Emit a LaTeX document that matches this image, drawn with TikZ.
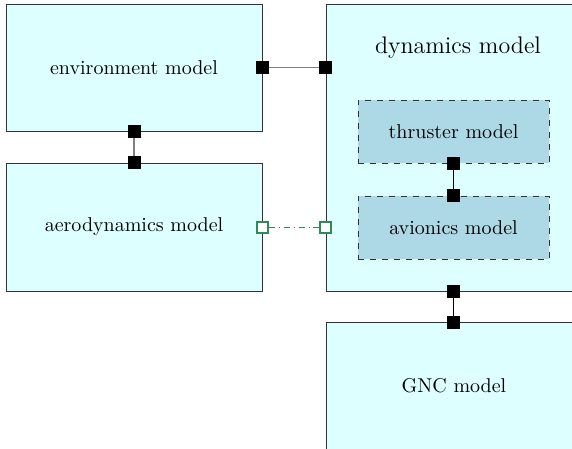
\documentclass[tikz,border=0pt]{standalone}
\usetikzlibrary{positioning}

\definecolor{modelfill}{RGB}{222,255,255}
\definecolor{subfill}{RGB}{173,216,230}
\definecolor{portgreen}{RGB}{46,139,87}

\begin{document}
\begin{tikzpicture}[x=0.5pt,y=-0.5pt,
    model/.style={draw=black!80,fill=modelfill,minimum width=128pt},
    submodel/.style={draw=black!80,dashed,fill=subfill,minimum width=95.5pt,minimum height=31.5pt},
    port/.style={fill=black,draw=black,minimum size=6pt,inner sep=0pt},
    oport/.style={fill=white,draw=portgreen,line width=1pt,minimum size=5.5pt,inner sep=0pt}]
    \useasboundingbox (0,0) rectangle (572,449);
    \clip (0,0) rectangle (572,449);

    \node[model,minimum height=63.5pt] (env) at (134,67.5) {environment model};
    \node[model,minimum height=64pt] (aero) at (134,227) {aerodynamics model};
    \node[model,minimum height=143.5pt] (dyn) at (454,147.5) {};
    \node[font=\large] (dynlabel) at (458,48) {dynamics model};
    \node[submodel] (thr) at (453.5,131.5) {thruster model};
    \node[submodel] (avi) at (453.5,227.5) {avionics model};
    \node[model,minimum height=64pt] (gnc) at (454,386) {GNC model};

    % ports
    \node[port] (envE) at (env.east) {};
    \node[port] (envS) at (env.south) {};
    \node[port] (aeroN) at (aero.north) {};
    \node[oport] (aeroE) at (aero.east) {};
    \node[port] (dynW) at (dyn.west |- envE) {};
    \node[oport] (dynWa) at (dyn.west |- aeroE) {};
    \node[port] (dynS) at (453.5,291) {};
    \node[port] (thrS) at (thr.south) {};
    \node[port] (aviN) at (avi.north) {};
    \node[port] (gncN) at (453.5,322) {};

    \draw[gray,thick] (envE) -- (dynW);
    \draw[gray,thick] (envS) -- (aeroN);
    \draw[portgreen,dash dot] (aeroE) -- (dynWa);
    \draw[thick] (thrS) -- (aviN);
    \draw[thick] (dynS) -- (gncN);
\end{tikzpicture}
\end{document}
